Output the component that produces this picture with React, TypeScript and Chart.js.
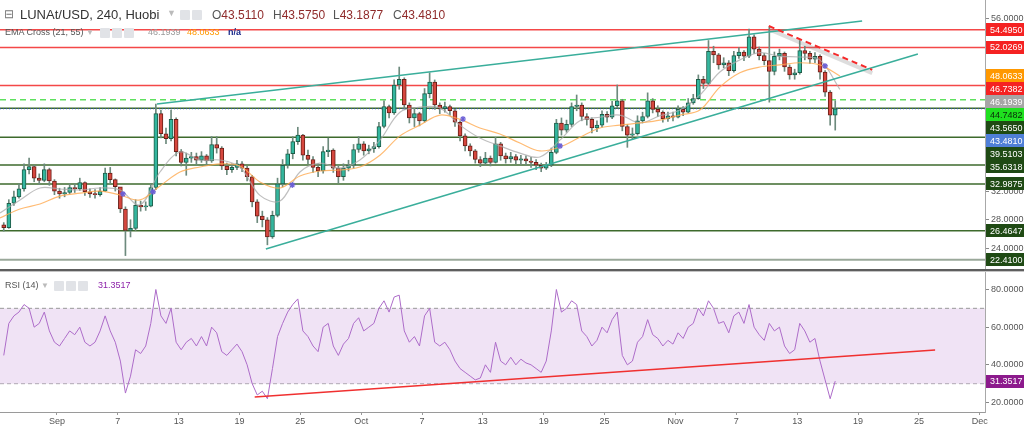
import React, { useEffect, useRef } from "react";
import { Chart, registerables } from "chart.js";

Chart.register(...registerables);

// ---------------- data ----------------
// time axis in days counted from 1 Sep (12h candles)
const CANDLE_START_DAY = -5.25;
const CANDLE_STEP_DAYS = 0.5;
const FIRST_OPEN = 27.3;

const closes = [
  26.9, 30.3, 31.2, 32.3, 35.0, 35.4, 33.8, 33.5, 35.0, 33.4,
  32.0, 31.6, 31.8, 32.5, 32.3, 33.2, 31.9, 31.6, 31.5, 32.0,
  34.5, 33.6, 32.6, 29.5, 26.5, 26.8, 30.0, 29.8, 29.9, 32.5,
  42.8, 40.0, 39.3, 42.0, 37.5, 36.0, 36.6, 36.8, 36.3, 36.9,
  36.2, 38.5, 38.0, 35.5, 35.0, 35.3, 35.8, 35.2, 34.0, 30.5,
  28.5, 28.0, 25.6, 28.6, 33.0, 35.6, 37.2, 38.9, 39.8, 37.0,
  36.4, 35.3, 34.8, 37.5, 37.7, 35.2, 34.0, 35.2, 35.6, 37.8,
  38.6, 37.6, 37.9, 38.2, 41.0, 43.8, 42.9, 46.8, 47.6, 44.0,
  42.2, 42.8, 41.8, 45.6, 47.2, 44.0, 43.5, 43.8, 43.2, 41.6,
  39.7, 38.3, 37.6, 36.4, 35.9, 36.6, 36.0, 38.6, 36.9, 36.5,
  36.8, 36.3, 36.5, 36.2, 36.0, 35.6, 35.2, 35.6, 37.4, 41.5,
  40.5, 41.3, 43.8, 44.0, 42.4, 42.0, 40.8, 41.2, 42.7, 42.3,
  43.9, 44.6, 41.0, 39.8, 40.0, 41.8, 42.4, 44.6, 43.4, 43.0,
  42.1, 42.5, 42.3, 43.4, 43.0, 44.3, 44.9, 47.6, 47.0, 51.5,
  51.0, 49.6, 49.9, 48.8, 50.9, 51.4, 50.8, 53.5, 51.8, 50.9,
  50.2, 48.7, 50.8, 51.2, 49.3, 48.2, 48.5, 51.6, 51.2, 50.4,
  50.8, 48.6, 45.8, 42.6, 43.481,
];
const highs = [
  27.6, 30.8, 32.0, 33.0, 35.8, 36.6, 35.6, 34.4, 35.8, 35.2,
  33.6, 32.4, 32.5, 33.0, 33.0, 33.8, 33.3, 32.3, 32.2, 32.5,
  35.2, 35.3, 33.7, 32.2, 29.8, 28.0, 30.8, 30.6, 30.5, 33.0,
  44.15, 43.3, 40.8, 43.3, 42.2, 37.8, 37.3, 37.4, 37.3, 37.5,
  37.1, 39.6, 39.6, 38.2, 35.9, 35.8, 36.3, 36.1, 35.5, 34.2,
  30.8, 29.2, 28.3, 29.2, 33.8, 36.4, 37.8, 39.6, 40.9, 39.9,
  37.7, 36.8, 35.8, 38.2, 39.4, 37.9, 35.6, 35.8, 36.3, 38.5,
  39.6, 38.9, 38.4, 38.8, 41.6, 44.6, 44.0, 47.5, 49.3, 47.8,
  44.3, 43.6, 43.0, 46.3, 48.5, 47.5, 44.3, 44.4, 44.0, 43.4,
  41.8, 40.0, 38.6, 37.8, 36.8, 37.4, 36.9, 39.5, 38.8, 37.3,
  37.4, 37.1, 37.0, 36.9, 36.7, 36.4, 35.9, 36.0, 38.0, 42.0,
  42.2, 41.9, 44.3, 45.4, 44.3, 42.8, 42.2, 41.8, 43.2, 43.1,
  44.5, 46.8, 44.8, 41.3, 40.8, 42.5, 43.0, 45.7, 44.9, 43.9,
  43.2, 43.0, 43.0, 43.9, 43.8, 44.9, 45.5, 48.2, 48.0, 53.0,
  52.2, 51.2, 50.6, 50.2, 51.5, 52.0, 51.6, 54.6, 53.8, 52.1,
  51.2, 54.9, 51.4, 51.8, 51.4, 49.6, 49.0, 53.0, 52.2, 51.5,
  51.3, 51.0, 48.8, 46.0, 44.6,
];
const lows = [
  26.4, 26.8, 30.0, 31.0, 32.0, 34.4, 33.3, 32.9, 33.3, 32.8,
  31.5, 31.0, 31.2, 31.6, 31.8, 32.1, 31.4, 31.1, 31.0, 31.3,
  31.9, 33.0, 32.0, 29.0, 23.0, 25.6, 26.5, 29.2, 29.3, 29.8,
  32.2, 39.4, 38.6, 39.0, 36.9, 35.5, 34.2, 36.0, 35.7, 36.0,
  35.6, 36.0, 37.3, 35.0, 34.3, 34.6, 35.0, 34.7, 33.4, 29.8,
  27.6, 27.0, 24.5, 25.4, 28.4, 32.6, 35.2, 36.5, 38.5, 36.3,
  35.8, 34.6, 34.0, 34.5, 36.8, 34.6, 33.1, 33.5, 34.8, 35.2,
  37.4, 37.0, 37.2, 37.4, 38.0, 40.8, 42.2, 42.7, 46.2, 43.4,
  41.5, 41.0, 41.1, 41.6, 45.0, 43.4, 42.8, 43.0, 42.6, 41.0,
  39.0, 37.6, 36.9, 35.9, 35.4, 35.6, 35.5, 35.9, 36.3, 35.9,
  36.0, 35.8, 35.7, 35.6, 35.3, 35.0, 34.7, 35.0, 35.4, 37.2,
  39.8, 40.2, 41.0, 43.2, 41.8, 41.2, 40.1, 40.3, 40.9, 41.6,
  42.1, 43.6, 40.4, 38.1, 39.2, 39.8, 41.5, 42.2, 42.9, 42.4,
  41.6, 41.7, 41.8, 42.2, 42.5, 42.9, 44.1, 44.8, 46.3, 46.8,
  49.9, 49.0, 49.2, 48.1, 48.6, 50.5, 50.2, 50.6, 51.2, 50.3,
  49.6, 44.4, 48.2, 50.3, 48.7, 47.6, 47.6, 48.3, 50.3, 49.8,
  49.9, 47.6, 45.2, 41.2, 40.5,
];
const rsiValues = [
  45, 62, 66, 68, 72, 70, 60, 62, 68, 58,
  52, 50, 54, 58, 56, 60, 52, 50, 52, 58,
  66, 58, 52, 42, 25, 34, 48, 46, 50, 62,
  80, 66, 62, 70, 52, 48, 52, 54, 50, 55,
  50, 60, 57, 47, 45, 48, 51, 47, 40, 30,
  24, 26, 22, 38, 55, 62, 68, 72, 75, 58,
  55, 50, 47, 60, 62, 50, 45, 51, 54, 62,
  65, 58, 60, 62, 70, 74, 68, 76, 77, 58,
  52, 55, 50, 66, 70, 52, 50, 52, 48, 42,
  38, 36, 34, 32, 33, 40, 36, 52, 42, 40,
  44, 40, 43, 41, 40, 38, 36, 42, 58, 80,
  68, 70, 74, 72, 58, 55, 50, 53, 60, 57,
  64, 68, 45, 40, 42, 52, 55, 64, 56, 54,
  50, 53, 51, 57, 54, 60, 62, 70, 66, 74,
  70, 62, 63, 57, 66, 68, 62, 72, 60, 56,
  53, 62, 58, 60, 50, 46, 48, 62, 58, 52,
  54, 42, 32, 22, 31.3517,
];

const EMA_START_DAY = -5.62;
const EMA_STEP_DAYS = 1.972;
const ema21 = [
  28.94, 30.76, 32.43, 32.29, 32.15, 32.43, 32.15, 30.06, 34.66, 37.45,
  36.33, 36.33, 35.36, 31.4, 30.6, 34.66, 35.9, 35.2, 36.33, 39.1,
  43.0, 43.7, 43.6, 41.2, 39.4, 38.3, 37.3, 36.75, 39.1, 41.8,
  42.3, 42.6, 41.5, 42.5, 43.3, 45.4, 48.6, 50.3, 51.3, 50.8,
  50.7, 50.3, 46.19,
];
const ema55 = [
  28.24, 29.5, 30.2, 31.3, 31.7, 32.0, 31.45, 30.76, 32.7, 34.66,
  35.36, 35.8, 35.5, 33.27, 32.43, 34.1, 34.8, 34.94, 35.36, 37.0,
  39.7, 41.2, 42.6, 42.0, 40.8, 39.96, 38.7, 37.6, 38.15, 39.5,
  40.8, 41.2, 41.5, 41.9, 42.6, 43.3, 46.5, 48.5, 49.3, 49.6,
  49.9, 49.6, 48.06,
];
const crossDays = [6.5, 9.47, 23.2, 40.04, 49.6, 75.74];
const crossPrices = [31.6, 31.9, 32.85, 42.05, 38.3, 49.45];

// drawn levels / lines
const resistanceLevels = [54.495, 52.0269, 46.7382];
const supportLevels = [43.565, 39.5103, 35.6318, 32.9875, 26.4647];
const bottomLevel = 22.41;
const dashedLevel = 44.7482;
const lastPrice = 43.481;
const ema21Last = 46.1939;
const ema55Last = 48.0633;
const rsiLast = 31.3517;
const rsiUpper = 70;
const rsiLower = 30;

const upperChannelDays = [9.86, 79.4];
const upperChannelPrices = [44.15, 55.72];
const lowerChannelDays = [20.6, 84.9];
const lowerChannelPrices = [23.92, 51.12];
const redTrendDays = [70.2, 80.4];
const redTrendPrices = [55.02, 48.91];
const rsiTrendDays = [19.5, 86.6];
const rsiTrendValues = [22.9, 47.9];

const priceTicks = [24, 28, 32, 36, 40, 44, 48, 52, 56];
const rsiTicks = [20, 40, 60, 80];
const dateTickDays = [0, 6, 12, 18, 24, 30, 36, 42, 48, 54, 61, 67, 73, 79, 85, 91];
const dateTickLabels = ["Sep", "7", "13", "19", "25", "Oct", "7", "13", "19", "25", "Nov", "7", "13", "19", "25", "Dec"];

const X_MIN = -5.62;
const X_MAX = 91.52;
const PRICE_MIN = 21.13;
const PRICE_MAX = 58.65;
const RSI_MIN = 14.95;
const RSI_MAX = 89.29;

// ---------------- styles ----------------
const FONT = "'Liberation Sans', Arial, sans-serif";
const AXIS_W = 39;
const UP_FILL = "#33b69e";
const UP_BORDER = "#1f5c48";
const DOWN_FILL = "#d6473e";
const DOWN_BORDER = "#6a1f18";
const WICK = "#6d8a7d";
const RED_LINE = "rgba(242,40,40,0.85)";
const GREEN_LINE = "#3d6a2c";
const TEAL = "#3aae9b";

type Label = { value: number; bg: string; fg: string };

function labelPlugin(id: string, labels: Label[]) {
  return {
    id,
    afterDraw(chart: any) {
      const ys = chart.scales.y;
      const ctx = chart.ctx;
      const items = labels
        .map((l) => ({ ...l, y: ys.getPixelForValue(l.value) }))
        .sort((a, b) => a.y - b.y);
      let prev = -1e9;
      ctx.save();
      for (const it of items) {
        const y = Math.max(it.y, prev + 13);
        prev = y;
        const x0 = ys.left + 1;
        ctx.fillStyle = it.bg;
        ctx.fillRect(x0, Math.round(y - 6.5), chart.width - x0, 13);
        ctx.fillStyle = it.fg;
        ctx.font = `9px ${FONT}`;
        ctx.textBaseline = "middle";
        ctx.textAlign = "left";
        ctx.fillText(it.value.toFixed(4), x0 + 4, y + 0.5);
      }
      ctx.restore();
    },
  };
}

function hline(value: number, color: string, width: number, dash: number[], order: number) {
  return {
    type: "line",
    data: [{ x: X_MIN, y: value }, { x: X_MAX, y: value }],
    borderColor: color,
    borderWidth: width,
    borderDash: dash,
    pointRadius: 0,
    fill: false,
    order,
  };
}

function seg(days: number[], vals: number[], color: string, width: number, dash: number[], order: number) {
  return {
    type: "line",
    data: days.map((d, i) => ({ x: d, y: vals[i] })),
    borderColor: color,
    borderWidth: width,
    borderDash: dash,
    pointRadius: 0,
    fill: false,
    order,
  };
}

function yAxis(min: number, max: number, ticks: number[]) {
  return {
    type: "linear",
    position: "right",
    min,
    max,
    afterFit: (s: any) => {
      s.width = AXIS_W;
      s.paddingTop = 0;
      s.paddingBottom = 0;
    },
    afterBuildTicks: (s: any) => {
      s.ticks = ticks.map((v) => ({ value: v }));
    },
    ticks: {
      callback: (v: any) => Number(v).toFixed(4),
      font: { size: 9, family: FONT },
      color: "#555",
      padding: 2,
    },
    grid: { drawOnChartArea: false, drawTicks: true, tickLength: 4, color: "#888" },
    border: { display: true, color: "#a8a8a8" },
  };
}

function PriceChart() {
  const ref = useRef<HTMLCanvasElement>(null);
  useEffect(() => {
    const candleDays = closes.map((_, i) => CANDLE_START_DAY + i * CANDLE_STEP_DAYS);
    const opens = closes.map((_, i) => (i === 0 ? FIRST_OPEN : closes[i - 1]));
    const up = closes.map((c, i) => c >= opens[i]);
    const emaDays = ema21.map((_, i) => EMA_START_DAY + i * EMA_STEP_DAYS);

    const datasets: any[] = [
      ...resistanceLevels.map((v) => hline(v, RED_LINE, 1.5, [], 20)),
      ...supportLevels.map((v) => hline(v, GREEN_LINE, 1.5, [], 20)),
      hline(bottomLevel, "#9aa89a", 2, [], 20),
      hline(dashedLevel, "#5fe05f", 1.5, [6, 4], 20),
      hline(lastPrice, "#3552c8", 1, [1, 2], 19),
      {
        type: "bar",
        data: candleDays.map((d, i) => ({ x: d, y: [lows[i], highs[i]] })),
        backgroundColor: WICK,
        barThickness: 1,
        grouped: false,
        order: 12,
      },
      {
        type: "bar",
        data: candleDays.map((d, i) => ({ x: d, y: [opens[i], closes[i]] })),
        backgroundColor: up.map((u) => (u ? UP_FILL : DOWN_FILL)),
        borderColor: up.map((u) => (u ? UP_BORDER : DOWN_BORDER)),
        borderWidth: 1,
        borderSkipped: false,
        barThickness: 4,
        minBarLength: 1,
        grouped: false,
        order: 11,
      },
      {
        type: "line",
        data: emaDays.map((d, i) => ({ x: d, y: ema55[i] })),
        borderColor: "rgba(255,170,80,0.8)",
        borderWidth: 1.2,
        pointRadius: 0,
        tension: 0.35,
        fill: false,
        order: 10,
      },
      {
        type: "line",
        data: emaDays.map((d, i) => ({ x: d, y: ema21[i] })),
        borderColor: "rgba(170,170,170,0.75)",
        borderWidth: 1.2,
        pointRadius: 0,
        tension: 0.35,
        fill: false,
        order: 10,
      },
      seg(upperChannelDays, upperChannelPrices, TEAL, 1.5, [], 4),
      seg(lowerChannelDays, lowerChannelPrices, TEAL, 1.5, [], 4),
      seg(redTrendDays, redTrendPrices.map((p) => p - 0.45), "rgba(120,120,120,0.25)", 4, [], 5),
      seg(redTrendDays, redTrendPrices, "#f42a2a", 2, [6, 4], 3),
      {
        type: "scatter",
        data: crossDays.map((d, i) => ({ x: d, y: crossPrices[i] })),
        pointStyle: "star",
        pointRadius: 3,
        borderColor: "#6b5fd6",
        borderWidth: 1.2,
        backgroundColor: "#6b5fd6",
        order: 2,
      },
    ];

    const labels: Label[] = [
      ...resistanceLevels.map((v) => ({ value: v, bg: "#f52222", fg: "#ffffff" })),
      { value: ema55Last, bg: "#ff9800", fg: "#ffffff" },
      { value: ema21Last, bg: "#a6a6a6", fg: "#ffffff" },
      { value: dashedLevel, bg: "#1fe01f", fg: "#0b2a0b" },
      { value: supportLevels[0], bg: "#1f4a14", fg: "#ffffff" },
      { value: lastPrice, bg: "#4f7fd8", fg: "#ffffff" },
      ...supportLevels.slice(1).map((v) => ({ value: v, bg: "#1f4a14", fg: "#ffffff" })),
      { value: bottomLevel, bg: "#1f4a14", fg: "#ffffff" },
    ];

    const chart = new Chart(ref.current as HTMLCanvasElement, {
      type: "bar",
      data: { datasets },
      options: {
        responsive: false,
        animation: false,
        devicePixelRatio: 1,
        layout: { padding: 0, autoPadding: false },
        plugins: { legend: { display: false }, tooltip: { enabled: false } },
        scales: {
          x: { type: "linear", min: X_MIN, max: X_MAX, display: false, offset: false, grid: { offset: false } },
          y: yAxis(PRICE_MIN, PRICE_MAX, priceTicks),
        },
      } as any,
      plugins: [labelPlugin("priceLabels", labels)],
    } as any);
    return () => chart.destroy();
  }, []);
  return <canvas ref={ref} width={1024} height={269} style={{ display: "block" }} />;
}

function RsiChart() {
  const ref = useRef<HTMLCanvasElement>(null);
  useEffect(() => {
    const candleDays = rsiValues.map((_, i) => CANDLE_START_DAY + i * CANDLE_STEP_DAYS);
    const datasets: any[] = [
      {
        ...hline(rsiUpper, "#9a9a9a", 1, [4, 3], 10),
        fill: "+1",
        backgroundColor: "rgba(226,200,236,0.5)",
      },
      hline(rsiLower, "#9a9a9a", 1, [4, 3], 10),
      {
        type: "line",
        data: candleDays.map((d, i) => ({ x: d, y: rsiValues[i] })),
        borderColor: "#ad6cc9",
        borderWidth: 1,
        pointRadius: 0,
        tension: 0,
        fill: false,
        order: 5,
      },
      seg(rsiTrendDays, rsiTrendValues, "#f03030", 1.5, [], 3),
    ];
    const chart = new Chart(ref.current as HTMLCanvasElement, {
      type: "line",
      data: { datasets },
      options: {
        responsive: false,
        animation: false,
        devicePixelRatio: 1,
        layout: { padding: 0, autoPadding: false },
        plugins: { legend: { display: false }, tooltip: { enabled: false } },
        scales: {
          x: {
            type: "linear",
            min: X_MIN,
            max: X_MAX,
            offset: false,
            afterFit: (s: any) => {
              s.height = 14;
              s.paddingLeft = 0;
              s.paddingRight = 0;
            },
            afterBuildTicks: (s: any) => {
              s.ticks = dateTickDays.map((v) => ({ value: v }));
            },
            ticks: {
              autoSkip: false,
              maxRotation: 0,
              padding: 1,
              color: "#555",
              font: { size: 9, family: FONT },
              callback: (v: any) => {
                const i = dateTickDays.indexOf(Number(v));
                return i >= 0 ? dateTickLabels[i] : "";
              },
            },
            grid: { drawOnChartArea: false, drawTicks: true, tickLength: 3, color: "#999" },
            border: { display: true, color: "#9a9a9a" },
          },
          y: yAxis(RSI_MIN, RSI_MAX, rsiTicks),
        },
      } as any,
      plugins: [labelPlugin("rsiLabels", [{ value: rsiLast, bg: "#8c1a8c", fg: "#ffffff" }])],
    } as any);
    return () => chart.destroy();
  }, []);
  return <canvas ref={ref} width={1024} height={154} style={{ display: "block" }} />;
}

const iconBox: React.CSSProperties = {
  position: "absolute",
  width: 10,
  height: 10,
  background: "#e1e3e7",
  borderRadius: 1,
};

function Txt(props: { left: number; top: number; size: number; color: string; bold?: boolean; children: any }) {
  return (
    <span
      style={{
        position: "absolute",
        left: props.left,
        top: props.top,
        fontSize: props.size,
        lineHeight: `${props.size + 2}px`,
        color: props.color,
        fontWeight: props.bold ? 700 : 400,
        whiteSpace: "nowrap",
        fontFamily: FONT,
      }}
    >
      {props.children}
    </span>
  );
}

export default function App() {
  useEffect(() => {
    document.body.style.margin = "0";
  }, []);
  const ohlc = [
    { k: "O", v: "43.5110", left: 212 },
    { k: "H", v: "43.5750", left: 273 },
    { k: "L", v: "43.1877", left: 333 },
    { k: "C", v: "43.4810", left: 393 },
  ];
  return (
    <div style={{ position: "relative", width: 1024, height: 426, background: "#fff", overflow: "hidden", fontFamily: FONT }}>
      <div style={{ position: "absolute", left: 0, top: 0 }}>
        <PriceChart />
      </div>
      <div style={{ position: "absolute", left: 0, top: 269, width: 1024, height: 2, background: "#5e5e5e" }} />
      <div style={{ position: "absolute", left: 0, top: 271, width: 1024, height: 1, background: "#c4c4c4" }} />
      <div style={{ position: "absolute", left: 0, top: 272 }}>
        <RsiChart />
      </div>

      {/* header line 1 */}
      <Txt left={4} top={7} size={12} color="#777">⊟</Txt>
      <Txt left={20} top={7} size={13} color="#333">LUNAt/USD, 240, Huobi</Txt>
      <Txt left={167} top={8} size={9} color="#bbb">▼</Txt>
      <div style={{ ...iconBox, left: 180, top: 10 }} />
      <div style={{ ...iconBox, left: 192, top: 10 }} />
      {ohlc.map((o) => (
        <span key={o.k} style={{ position: "absolute", left: o.left, top: 8, fontSize: 12, lineHeight: "14px", whiteSpace: "nowrap" }}>
          <span style={{ color: "#555" }}>{o.k}</span>
          <span style={{ color: "#8f2a2a" }}>{o.v}</span>
        </span>
      ))}

      {/* header line 2 */}
      <Txt left={5} top={27} size={9} color="#555">EMA Cross (21, 55)</Txt>
      <Txt left={86} top={28} size={8} color="#bbb">▼</Txt>
      <div style={{ ...iconBox, left: 100, top: 28 }} />
      <div style={{ ...iconBox, left: 112, top: 28 }} />
      <div style={{ ...iconBox, left: 124, top: 28 }} />
      <Txt left={148} top={27} size={9} color="#9a9a9a">46.1939</Txt>
      <Txt left={187} top={27} size={9} color="#ff9800">48.0633</Txt>
      <Txt left={228} top={27} size={9} color="#1a2a8a" bold>n/a</Txt>

      {/* RSI header */}
      <Txt left={5} top={280} size={9} color="#555">RSI (14)</Txt>
      <Txt left={41} top={281} size={8} color="#bbb">▼</Txt>
      <div style={{ ...iconBox, left: 54, top: 281 }} />
      <div style={{ ...iconBox, left: 66, top: 281 }} />
      <div style={{ ...iconBox, left: 78, top: 281 }} />
      <Txt left={98} top={280} size={9} color="#8e24aa">31.3517</Txt>
    </div>
  );
}
